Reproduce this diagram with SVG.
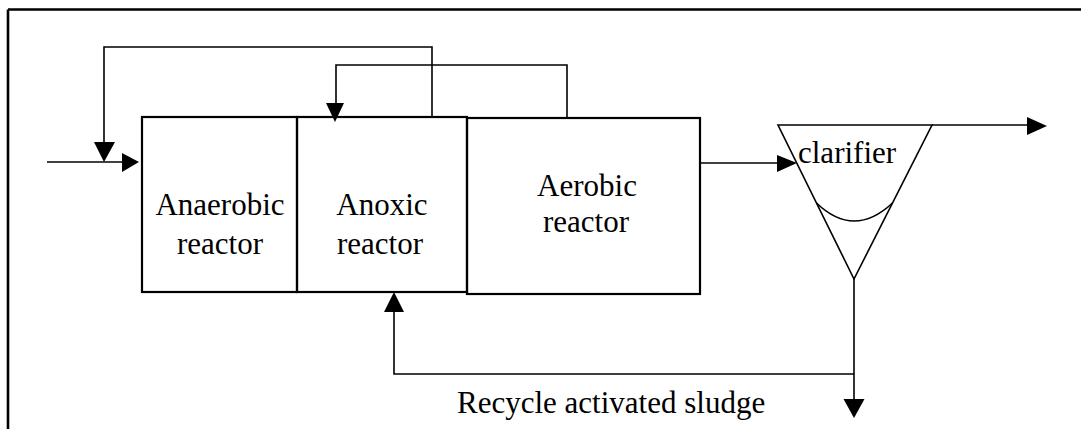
<svg xmlns="http://www.w3.org/2000/svg" width="1081" height="429" viewBox="0 0 1081 429">
<style>
.ln{fill:none;stroke:#000;stroke-width:1.6}
.bx{fill:none;stroke:#000;stroke-width:2.2}
.ah{fill:#000;stroke:none}
text{font-family:"Liberation Serif","Times New Roman",serif;font-size:31px;fill:#000}
</style>
<rect width="1081" height="429" fill="#fff"/>
<g id="frame">
<path d="M8,9.5 H1081 M8,9.5 V429" fill="none" stroke="#000" stroke-width="2.6"/>
</g>
<g id="anaerobic">
<rect class="bx" x="142" y="117" width="155" height="175"/>
<text x="220" y="215" text-anchor="middle">Anaerobic</text>
<text x="220" y="254" text-anchor="middle">reactor</text>
</g>
<g id="anoxic">
<rect class="bx" x="297" y="117" width="170" height="175"/>
<text x="382" y="215" text-anchor="middle">Anoxic</text>
<text x="380" y="254" text-anchor="middle">reactor</text>
</g>
<g id="aerobic">
<rect class="bx" x="467" y="118" width="233" height="176"/>
<text x="587" y="196" text-anchor="middle">Aerobic</text>
<text x="586" y="232" text-anchor="middle">reactor</text>
</g>
<g id="clarifier">
<path class="ln" d="M778,125 L932,125 L854,279 Z"/>
<path class="ln" d="M816.5,203 Q854,239 892.5,203"/>
<text x="798" y="163">clarifier</text>
</g>
<g id="connectors">
<path class="ln" d="M47,162 H124"/>
<polygon class="ah" points="139,162 122,153 122,172"/>
<path class="ln" d="M432,117 V47 H104 V144"/>
<polygon class="ah" points="104,162 94,142 115,142"/>
<path class="ln" d="M567,118 V65 H336 V105"/>
<polygon class="ah" points="335,122 326,103 344,103"/>
<path class="ln" d="M700,163 H779"/>
<polygon class="ah" points="797,163 777,155 777,172"/>
<path class="ln" d="M932,125 H1029"/>
<polygon class="ah" points="1047,126 1027,117 1027,135"/>
<path class="ln" d="M854,279 V400"/>
<polygon class="ah" points="854,418 843.5,399 864.5,399"/>
<path class="ln" d="M854,374 H394 V310"/>
<polygon class="ah" points="394,292 384,312 404,312"/>
<text x="457" y="413">Recycle activated sludge</text>
</g>
</svg>
